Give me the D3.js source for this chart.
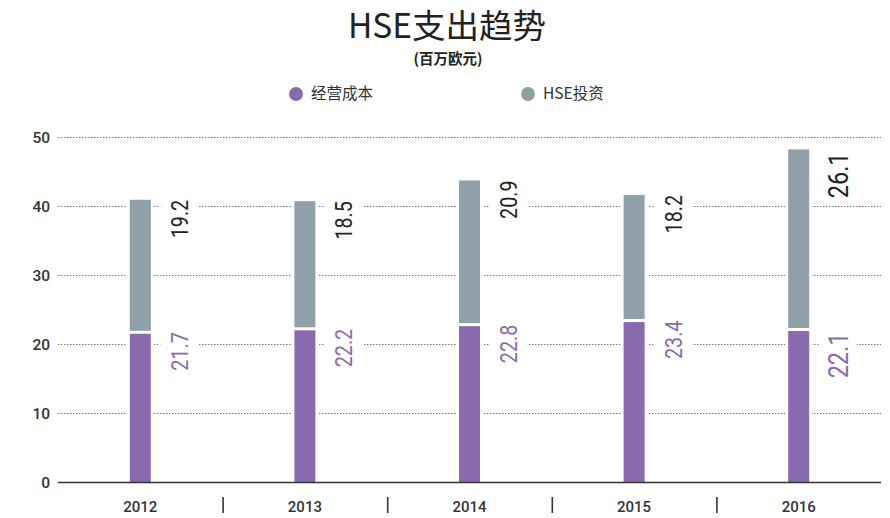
<!DOCTYPE html>
<html lang="zh">
<head>
    <meta charset="UTF-8">
    <title>HSE支出趋势</title>
    <script src="https://d3js.org/d3.v7.min.js"></script>
    <style>
        body { margin: 0; background: #fff; }
        svg { display: block; }
        .cjk { font-family: "Noto Sans CJK SC", "Noto Sans", sans-serif; }
        .axis-label { font-family: Roboto, "DejaVu Sans", sans-serif; font-weight: 500; fill: #333; }
        .value { font-family: Roboto, "Liberation Sans", sans-serif; }
    </style>
</head>
<body>
<div id="chart"></div>
<script>
    // data
    const years = ["2012", "2013", "2014", "2015", "2016"];
    const opCost = [21.7, 22.2, 22.8, 23.4, 22.1];      // 经营成本
    const hseInvest = [19.2, 18.5, 20.9, 18.2, 26.1];   // HSE投资
    const seriesNames = ["经营成本", "HSE投资"];
    const seriesColors = ["#8a6aae", "#8fa0a9"];
    const yTicks = [0, 10, 20, 30, 40, 50];
    const highlightYear = "2016";

    const width = 890, height = 518;
    const margin = { top: 137, right: 9, bottom: 36, left: 58 };

    const svg = d3.select("#chart").append("svg")
        .attr("width", width).attr("height", height);

    // title + subtitle
    svg.append("text").attr("class", "cjk")
        .attr("x", 447).attr("y", 38)
        .attr("text-anchor", "middle")
        .style("font-size", "33.5px").style("fill", "#222")
        .text("HSE支出趋势");
    svg.append("text").attr("class", "cjk")
        .attr("x", 448).attr("y", 64)
        .attr("text-anchor", "middle")
        .style("font-size", "14.5px").style("font-weight", "bold").style("fill", "#222")
        .text("(百万欧元)");

    // legend
    const legendX = [296, 528];
    seriesNames.forEach((name, i) => {
        const g = svg.append("g").attr("transform", `translate(${legendX[i]},94)`);
        g.append("circle").attr("r", 7).attr("fill", seriesColors[i]);
        g.append("text").attr("class", "cjk")
            .attr("x", 15).attr("dy", "0.35em")
            .style("font-size", "15.5px").style("fill", "#333")
            .text(name);
    });

    const x = d3.scaleBand().domain(years)
        .range([margin.left, width - margin.right]);
    const y = d3.scaleLinear().domain([0, 50])
        .range([height - margin.bottom, margin.top]);

    // gridlines
    svg.append("g").selectAll("line")
        .data(yTicks.filter(d => d > 0))
        .enter().append("line")
        .attr("x1", margin.left).attr("x2", width - margin.right)
        .attr("y1", d => y(d) + 0.5).attr("y2", d => y(d) + 0.5)
        .attr("stroke", "#777").attr("stroke-width", 1)
        .attr("stroke-dasharray", "1.5,1.5");

    // y labels
    svg.append("g").selectAll("text")
        .data(yTicks)
        .enter().append("text")
        .attr("class", "axis-label")
        .attr("x", margin.left - 8).attr("y", d => y(d))
        .attr("dy", "0.36em")
        .attr("text-anchor", "end")
        .style("font-size", "15.5px")
        .text(d => d);

    const barW = 21;
    const labelOff = 39;
    const rows = years.map((yr, i) => ({ year: yr, op: opCost[i], hse: hseInvest[i] }));

    const cols = svg.append("g").selectAll("g")
        .data(rows)
        .enter().append("g")
        .attr("transform", d => `translate(${x(d.year) + x.bandwidth() / 2},0)`);

    // white backing so gridlines break around bars
    cols.append("rect")
        .attr("x", -barW / 2 - 3).attr("width", barW + 6)
        .attr("y", d => y(d.op + d.hse) - 3)
        .attr("height", d => y(0) - y(d.op + d.hse) + 3)
        .attr("fill", "#fff");

    cols.append("rect")
        .attr("x", -barW / 2).attr("width", barW)
        .attr("y", d => y(d.op) + 1.5)
        .attr("height", d => y(0) - y(d.op) - 1.5)
        .attr("fill", seriesColors[0]);

    cols.append("rect")
        .attr("x", -barW / 2).attr("width", barW)
        .attr("y", d => y(d.op + d.hse))
        .attr("height", d => y(d.op) - y(d.op + d.hse) - 1.5)
        .attr("fill", seriesColors[1]);

    // rotated value labels (narrowed to mimic the condensed face)
    function addLabel(sel, val, top, color) {
        sel.each(function (d) {
            const big = d.year === highlightYear;
            const fs = big ? 28 : 23.5;
            const g = d3.select(this).append("g")
                .attr("transform", `translate(${labelOff},${top(d) + (big ? 3 : 0)}) rotate(-90) scale(0.84,1)`);
            const t = g.append("text")
                .attr("class", "value")
                .attr("text-anchor", "end")
                .attr("dy", "0.36em")
                .style("font-size", fs + "px")
                .style("fill", color)
                .text(val(d).toFixed(1));
            const len = t.node().getComputedTextLength();
            g.insert("rect", "text")
                .attr("x", -len - 4).attr("width", len + 8)
                .attr("y", -19).attr("height", 38)
                .attr("fill", "#fff");
        });
    }
    addLabel(cols, d => d.hse, d => y(d.op + d.hse), "#222");
    addLabel(cols, d => d.op, d => y(d.op), seriesColors[0]);

    // baseline
    svg.append("line")
        .attr("x1", margin.left).attr("x2", width - margin.right)
        .attr("y1", y(0) + 0.5).attr("y2", y(0) + 0.5)
        .attr("stroke", "#333").attr("stroke-width", 1.3);

    // x labels
    svg.append("g").selectAll("text")
        .data(years)
        .enter().append("text")
        .attr("class", "axis-label")
        .attr("x", d => x(d) + x.bandwidth() / 2)
        .attr("y", 512)
        .attr("text-anchor", "middle")
        .style("font-size", "15px")
        .text(d => d);

    // separators between years
    svg.append("g").selectAll("line")
        .data(years.slice(1))
        .enter().append("line")
        .attr("x1", d => x(d) + 0.5).attr("x2", d => x(d) + 0.5)
        .attr("y1", 497).attr("y2", 513)
        .attr("stroke", "#333").attr("stroke-width", 1.6);
</script>
</body>
</html>
